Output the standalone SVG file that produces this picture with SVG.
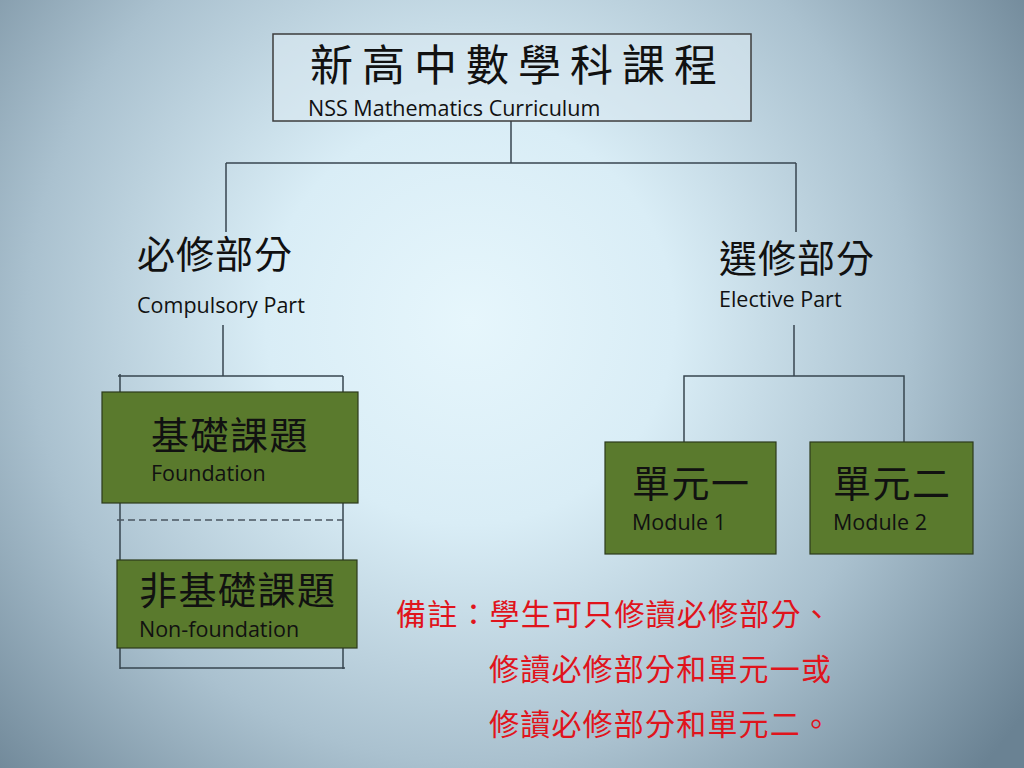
<svg xmlns="http://www.w3.org/2000/svg" width="1024" height="768" viewBox="0 0 1024 768">
<defs>
<radialGradient id="bg" gradientUnits="userSpaceOnUse" cx="470" cy="320" r="680">
<stop offset="0" stop-color="#e6f6fc"/>
<stop offset="0.3" stop-color="#d9edf6"/>
<stop offset="0.65" stop-color="#aac1cf"/>
<stop offset="1" stop-color="#6a8293"/>
</radialGradient>
<style>
.ln{stroke:#37454f;stroke-width:1.5;fill:none}
.box{fill:#5a7a2d;stroke:#2c3a1c;stroke-width:1.2}
.cjk{font-family:"Noto Sans CJK TC","Noto Sans CJK SC",sans-serif;fill:#111}
.en{font-family:"Open Sans","Liberation Sans",sans-serif;fill:#111;font-size:21.5px}
.note{font-family:"Noto Sans CJK TC","Noto Sans CJK SC",sans-serif;fill:#e0141c;font-size:30px;letter-spacing:1.2px}
</style>
</defs>
<rect width="1024" height="768" fill="url(#bg)"/>

<g id="connectors">
<line class="ln" x1="511" y1="121" x2="511" y2="163"/>
<line class="ln" x1="226" y1="163" x2="796" y2="163"/>
<line class="ln" x1="226" y1="163" x2="226" y2="232"/>
<line class="ln" x1="796" y1="163" x2="796" y2="232"/>
<line class="ln" x1="223" y1="325" x2="223" y2="376"/>
<path class="ln" d="M118 376 H343 M120 374 V669 M343 376 V669 M120 668 H345"/>
<line x1="117" y1="520" x2="343" y2="520" stroke="#4a5660" stroke-width="1.3" stroke-dasharray="7,4"/>
<line class="ln" x1="794" y1="325" x2="794" y2="376"/>
<path class="ln" d="M684 442 V376 H904 V442"/>
</g>

<g id="root">
<rect x="273" y="34" width="478" height="87" fill="#dbe9f1" fill-opacity="0.6" stroke="#3c3c3c" stroke-width="1.5"/>
<text class="cjk" x="310" y="81" font-size="43" letter-spacing="9">新高中數學科課程</text>
<text class="en" x="308" y="116">NSS Mathematics Curriculum</text>
</g>

<g id="compulsory">
<text class="cjk" x="137" y="268" font-size="38" letter-spacing="1">必修部分</text>
<text class="en" x="137" y="313">Compulsory Part</text>
</g>

<g id="elective">
<text class="cjk" x="719" y="272" font-size="38" letter-spacing="1">選修部分</text>
<text class="en" x="719" y="307">Elective Part</text>
</g>

<g id="foundation">
<rect class="box" x="102" y="392" width="256" height="111" stroke="none"/>
<text class="cjk" x="151" y="449" font-size="38" letter-spacing="1.5">基礎課題</text>
<text class="en" x="151" y="481">Foundation</text>
</g>

<g id="nonfoundation">
<rect class="box" x="117" y="560" width="240" height="88" stroke="none"/>
<text class="cjk" x="139" y="604" font-size="38" letter-spacing="1.5">非基礎課題</text>
<text class="en" x="139" y="637">Non-foundation</text>
</g>

<g id="module1">
<rect class="box" x="605" y="442" width="171" height="112"/>
<text class="cjk" x="632" y="497" font-size="38" letter-spacing="1.5">單元一</text>
<text class="en" x="632" y="530">Module 1</text>
</g>

<g id="module2">
<rect class="box" x="810" y="442" width="163" height="112"/>
<text class="cjk" x="833" y="497" font-size="38" letter-spacing="1.5">單元二</text>
<text class="en" x="833" y="530">Module 2</text>
</g>

<g id="note">
<text class="note" x="396" y="625">備註：學生可只修讀必修部分、</text>
<text class="note" x="489" y="680">修讀必修部分和單元一或</text>
<text class="note" x="489" y="735">修讀必修部分和單元二。</text>
</g>
</svg>
